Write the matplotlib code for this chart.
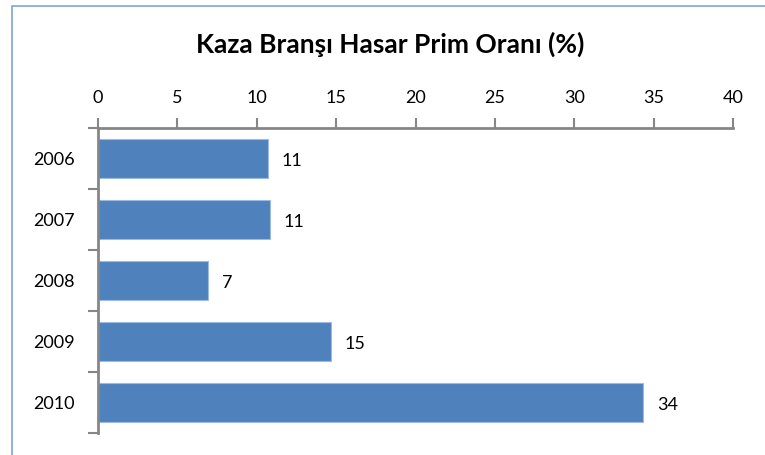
import matplotlib.pyplot as plt
from matplotlib.patches import Rectangle

years = ['2006', '2007', '2008', '2009', '2010']
values = [10.73, 10.83, 6.93, 14.68, 34.35]
labels = ['11', '11', '7', '15', '34']

plt.rcParams['font.family'] = ['Lato', 'DejaVu Sans']

fig = plt.figure(figsize=(7.65, 4.55), dpi=100)

# outer chart frame (cut off on the right and bottom)
fig.patches.append(Rectangle((12 / 765, -0.1), 1.2, 1 - 6 / 455 + 0.1,
                             transform=fig.transFigure, fill=False,
                             edgecolor='#7ea6d8', linewidth=1.2))

ax = fig.add_axes([98 / 765, 1 - 433 / 455, (733 - 98) / 765, (433 - 128) / 455])

pos = range(len(years))
ax.barh(pos, values, height=0.64, color='#4f81bd', edgecolor='#9dbbe0', linewidth=0.8)
for p, v, t in zip(pos, values, labels):
    ax.text(v + 0.85, p + 0.04, t, va='center', ha='left', fontsize=13)

ax.set_xlim(0, 40)
ax.set_ylim(4.5, -0.5)
ax.xaxis.tick_top()
ax.set_xticks(range(0, 41, 5))
ax.tick_params(axis='x', length=7, width=1.5, color='#868686', labelsize=13, pad=9)
ax.set_yticks(pos)
ax.set_yticklabels(years)
ax.set_yticks([i - 0.5 for i in range(len(years) + 1)], minor=True)
ax.tick_params(axis='y', which='major', length=0, labelsize=13, pad=17)
ax.tick_params(axis='y', which='minor', length=7, width=1.5, color='#868686')

for s in ['right', 'bottom']:
    ax.spines[s].set_visible(False)
for s in ['left', 'top']:
    ax.spines[s].set_color('#868686')
    ax.spines[s].set_linewidth(2)

fig.text(0.5 + 0.01, 1 - 44 / 455, 'Kaza Branşı Hasar Prim Oranı (%)', ha='center', va='center',
         fontsize=19, fontweight='bold')

fig.savefig('out.png', dpi=100)
